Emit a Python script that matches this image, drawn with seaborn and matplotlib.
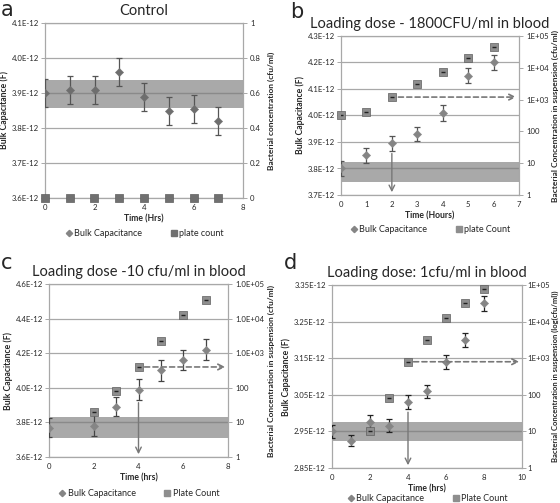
import matplotlib
matplotlib.use("Agg")
import matplotlib.pyplot as plt
import seaborn as sns
import numpy as np
from matplotlib.lines import Line2D
from matplotlib.ticker import FixedLocator, FuncFormatter, NullLocator

sns.set_style("white")
plt.rcParams['font.family'] = ['Lato', 'DejaVu Sans']

# ---------------- data ----------------
# Panel a : Control
a_time = [0, 1, 2, 3, 4, 5, 6, 7]
a_cap = [3.90, 3.91, 3.91, 3.96, 3.89, 3.85, 3.855, 3.82]       # x1e-12 F
a_err = [0.04, 0.04, 0.04, 0.04, 0.04, 0.04, 0.04, 0.04]
a_plate_time = [0, 1, 2, 3, 4, 5, 6, 7]
a_plate = [0, 0, 0, 0, 0, 0, 0, 0]
a_band = (3.857, 3.936)
a_base = 3.90

# Panel b : 1800 CFU/ml
b_time = [0, 1, 2, 3, 4, 5, 6]
b_cap = [3.80, 3.85, 3.895, 3.93, 4.01, 4.15, 4.20]
b_err = [0.03, 0.028, 0.028, 0.028, 0.03, 0.028, 0.03]
b_plate_time = [0, 1, 2, 3, 4, 5, 6]
b_plate = [320, 420, 1200, 3100, 7600, 20000, 46000]
b_band = (3.75, 3.826)
b_base = 3.80
b_detect = 2

# Panel c : 10 cfu/ml
c_time = [0, 2, 3, 4, 5, 6, 7]
c_cap = [3.77, 3.78, 3.89, 3.99, 4.10, 4.16, 4.22]
c_err = [0.055, 0.06, 0.055, 0.06, 0.06, 0.06, 0.06]
c_plate_time = [2, 3, 4, 5, 6, 7]
c_plate = [20, 80, 400, 2200, 12600, 35000]
c_band = (3.71, 3.83)
c_base = 3.80
c_detect = 4

# Panel d : 1 cfu/ml
d_time = [0, 1, 2, 3, 4, 5, 6, 7, 8]
d_cap = [2.95, 2.925, 2.975, 2.965, 3.03, 3.06, 3.14, 3.20, 3.30]
d_err = [0.018, 0.016, 0.02, 0.018, 0.02, 0.018, 0.02, 0.02, 0.02]
d_plate_time = [2, 3, 4, 5, 6, 7, 8]
d_plate = [10, 80, 800, 3200, 12600, 32000, 80000]
d_band = (2.925, 2.975)
d_base = 2.95
d_detect = 4

W, H = 560, 503
fig = plt.figure(figsize=(W / 100, H / 100), dpi=100)


def box(l, r, t, b):
    return [l / W, 1 - b / H, (r - l) / W, (b - t) / H]


GRID = '#a8a8a8'
BAND = '#a9a9a9'
DIA = '#858585'
SQ = '#8e8e8e'
TS = 5.6   # tick label size


def setup(ax, ylim, yticks, yfmt, xlim, xticks):
    ax.set_xlim(*xlim)
    ax.set_ylim(*ylim)
    ax.yaxis.set_major_locator(FixedLocator(yticks))
    ax.yaxis.set_major_formatter(FuncFormatter(yfmt))
    ax.xaxis.set_major_locator(FixedLocator(xticks))
    ax.yaxis.grid(True, color=GRID, lw=0.9)
    ax.xaxis.grid(False)
    ax.set_axisbelow(True)
    for s in ax.spines.values():
        s.set_color(GRID)
        s.set_linewidth(0.9)
    ax.tick_params(axis='both', labelsize=TS, length=3, width=0.7, color=GRID, pad=1.5)


def panel(rect, letter, lpos, title, time, cap, err, band, base,
          ptime, plate, ylim, yticks, yfmt, xlim, xticks, xlabel,
          rlabel, rlog, rfmt, leg_labels, detect=None, errc='#555555',
          legy=-0.2, dia_color=DIA, sq_color=SQ, rlabel_x=1.1, rlabel_fs=6.0,
          rpad=2):
    ax = fig.add_axes(rect)
    setup(ax, ylim, yticks, yfmt, xlim, xticks)
    ax.axhspan(band[0], band[1], color=BAND, zorder=1, lw=0)
    ax.axhline(base, color='#8a8a8a', lw=1.0, zorder=1.5)
    ax.errorbar(time, cap, yerr=err, fmt='none', ecolor=errc, elinewidth=0.9,
                capsize=2, capthick=0.9, zorder=3)
    sns.scatterplot(x=time, y=cap, ax=ax, marker='D', s=18, color=dia_color,
                    edgecolor=dia_color, linewidth=0.3, zorder=4, legend=False)
    ax.set_xlabel(xlabel, fontsize=6.2, fontweight='bold', labelpad=2)
    ax.set_ylabel('Bulk Capacitance (F)', fontsize=6.2, fontweight='bold', labelpad=2)
    ax.set_title(title, fontsize=10.5, pad=6)

    ax2 = ax.twinx()
    if rlog:
        ax2.set_yscale('log')
        ax2.set_ylim(1, 1e5)
        ax2.yaxis.set_major_locator(FixedLocator([1, 10, 100, 1e3, 1e4, 1e5]))
        ax2.yaxis.set_minor_locator(NullLocator())
    else:
        ax2.set_ylim(0, 1)
        ax2.yaxis.set_major_locator(FixedLocator([0, 0.2, 0.4, 0.6, 0.8, 1.0]))
    ax2.yaxis.set_major_formatter(FuncFormatter(rfmt))
    ax2.tick_params(axis='y', labelsize=TS, length=3, width=0.7, color=GRID, pad=rpad)
    for s in ax2.spines.values():
        s.set_visible(False)
    sns.scatterplot(x=ptime, y=plate, ax=ax2, marker='s', s=30, color=sq_color,
                    edgecolor='#5e5e5e', linewidth=0.5, zorder=5, legend=False,
                    clip_on=False)
    if rlog:
        ax2.scatter(ptime, plate, marker='_', s=8, color='#222222', lw=1.0, zorder=6)
    ax2.set_ylabel(rlabel, fontsize=rlabel_fs, fontweight='bold')
    ax2.yaxis.set_label_coords(rlabel_x, 0.5)
    ax2.set_xlim(*xlim)

    if detect is not None:
        i = list(time).index(detect)
        j = list(ptime).index(detect)
        ax.annotate('', xy=(detect, ylim[0]), xytext=(detect, cap[i] - err[i]),
                    arrowprops=dict(arrowstyle='->', color='#777777', lw=1.0),
                    zorder=6)
        ax2.annotate('', xy=(xlim[1], plate[j]), xytext=(detect + 0.15, plate[j]),
                     arrowprops=dict(arrowstyle='->', color='#777777', lw=1.2,
                                     linestyle=(0, (3, 2))),
                     zorder=6, annotation_clip=False)

    handles = [Line2D([], [], marker='D', ls='', color=DIA, markersize=3.2),
               Line2D([], [], marker='s', ls='', color=sq_color, markersize=5)]
    ax.legend(handles, leg_labels, loc='upper center', bbox_to_anchor=(0.5, legy),
              ncol=2, frameon=False, fontsize=6.5,
              handletextpad=0.1, columnspacing=3.0, handlelength=1.0)
    fig.text(lpos[0] / W, 1 - lpos[1] / H, letter, fontsize=15,
             family='DejaVu Sans', va='center', ha='left')
    return ax, ax2


f1 = lambda v, p: f"{v:.1f}E-12"
f2 = lambda v, p: f"{v:.2f}E-12"
lin_fmt = lambda v, p: "0" if v == 0 else ("1" if v == 1 else f"{v:.1f}")
log_fmt_b = lambda v, p: {1: "1", 10: "10", 100: "100"}.get(int(round(v)), f"1E+{int(round(np.log10(v))):02d}")
log_fmt_c = lambda v, p: {1: "1", 10: "10", 100: "100"}.get(int(round(v)), f"1.0E+{int(round(np.log10(v))):02d}")

panel(box(45, 243, 23, 198), 'a', (1, 10), 'Control',
      a_time, a_cap, a_err, a_band, a_base, a_plate_time, a_plate,
      (3.6, 4.1), [3.6, 3.7, 3.8, 3.9, 4.0, 4.1], f1, (0, 8), [0, 2, 4, 6, 8],
      'Time (Hrs)', 'Bacterial concentration (cfu/ml)', False, lin_fmt,
      ['Bulk Capacitance', 'plate count'], errc='#555555', legy=-0.13,
      dia_color='#6e6e6e', sq_color='#707070', rlabel_x=1.126)

panel(box(341, 519, 36, 195), 'b', (290, 12), 'Loading dose - 1800CFU/ml in blood',
      b_time, b_cap, b_err, b_band, b_base, b_plate_time, b_plate,
      (3.7, 4.3), [3.7, 3.8, 3.9, 4.0, 4.1, 4.2, 4.3], f1, (0, 7), list(range(8)),
      'Time (Hours)', 'Bacterial Concentration in suspension (cfu/ml)', True, log_fmt_b,
      ['Bulk Capacitance', 'plate Count'], detect=b_detect, legy=-0.14, rlabel_x=1.185)

panel(box(49, 228, 284, 457), 'c', (1, 263), 'Loading dose -10 cfu/ml in blood',
      c_time, c_cap, c_err, c_band, c_base, c_plate_time, c_plate,
      (3.6, 4.6), [3.6, 3.8, 4.0, 4.2, 4.4, 4.6], f1, (0, 8), [0, 2, 4, 6, 8],
      'Time (hrs)', 'Bacterial Concentration in suspension (cfu/ml)', True, log_fmt_c,
      ['Bulk Capacitance', 'Plate Count'], detect=c_detect, legy=-0.14,
      errc='#444444', rlabel_x=1.223)

panel(box(332, 522, 285, 468), 'd', (284, 263), 'Loading dose: 1cfu/ml in blood',
      d_time, d_cap, d_err, d_band, d_base, d_plate_time, d_plate,
      (2.85, 3.35), [2.85, 2.95, 3.05, 3.15, 3.25, 3.35], f2, (0, 10), [0, 2, 4, 6, 8, 10],
      'Time (hrs)', 'Bacterial Concentration in suspension (log(cfu/ml))', True, log_fmt_b,
      ['Bulk Capacitance', 'Plate Count'], detect=d_detect, legy=-0.1,
      errc='#222222', rlabel_x=1.158, rlabel_fs=5.5, rpad=1)

fig.savefig('out.png', dpi=100)
